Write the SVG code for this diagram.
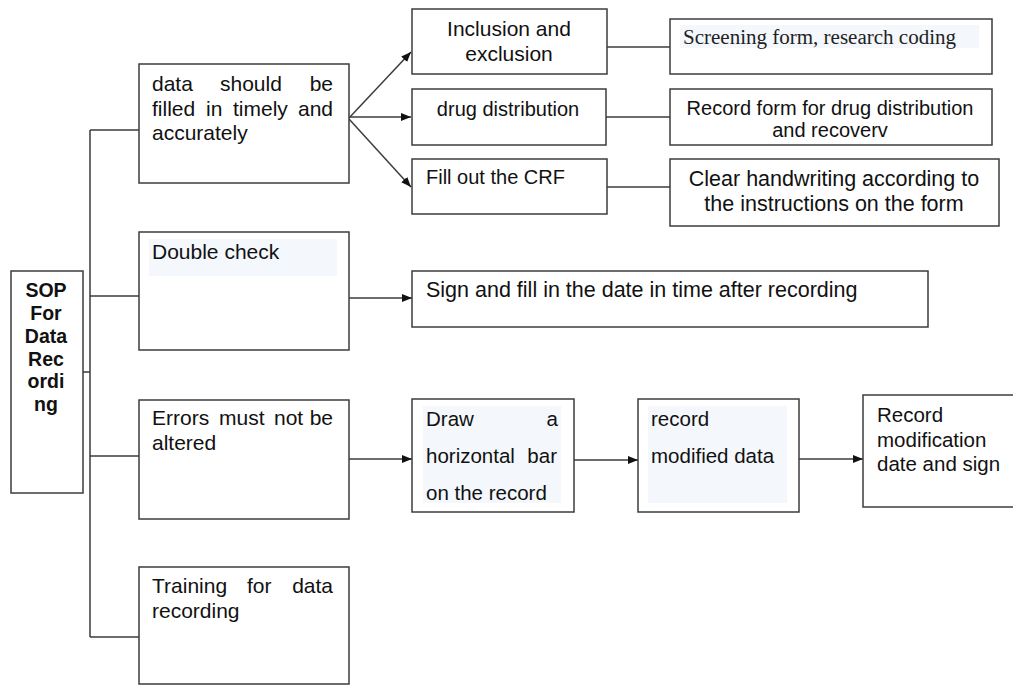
<svg xmlns="http://www.w3.org/2000/svg" width="1013" height="685" viewBox="0 0 1013 685">
<defs>
<style>
.box{fill:#fff;stroke:#3c3c3c;stroke-width:1.5}
.bg{fill:#f4f7fc}
.t{font-family:"Liberation Sans",Arial,sans-serif;font-size:21px;fill:#111}
.s{font-size:20px}
.m{font-size:20.5px}
.l{font-size:21.5px}
.c{text-anchor:middle}
.e{text-anchor:end}
.b{font-weight:bold;font-size:19.5px;text-anchor:middle}
.serif{font-family:"Liberation Serif","Times New Roman",serif;font-size:20px;fill:#222}
.conn{stroke:#3c3c3c;stroke-width:1.5;fill:none}
</style>
<marker id="arr" markerUnits="userSpaceOnUse" markerWidth="11" markerHeight="9" refX="10" refY="4" orient="auto">
<path d="M0,0 L10,4 L0,8 z" fill="#111"/>
</marker>
</defs>
<rect width="1013" height="685" fill="#fff"/>

<g id="connectors">
<path class="conn" d="M90 130 V637 M90 130 H139 M90 296 H139 M90 456 H139 M90 637 H139 M76 372 H90"/>
<path class="conn" d="M607 47 H670 M606 117 H670 M607 187 H670"/>
<path class="conn" marker-end="url(#arr)" d="M349 118 L411 52"/>
<path class="conn" marker-end="url(#arr)" d="M349 117 H411"/>
<path class="conn" marker-end="url(#arr)" d="M349 119 L411 187"/>
<path class="conn" marker-end="url(#arr)" d="M349 298 H412"/>
<path class="conn" marker-end="url(#arr)" d="M349 459 H412"/>
<path class="conn" marker-end="url(#arr)" d="M574 460 H638"/>
<path class="conn" marker-end="url(#arr)" d="M799 459 H863"/>
</g>

<g id="sop">
<rect class="box" x="11" y="271" width="72" height="222"/>
<text class="t b" x="46" y="297">SOP</text>
<text class="t b" x="46" y="320">For</text>
<text class="t b" x="46" y="343">Data</text>
<text class="t b" x="46" y="366">Rec</text>
<text class="t b" x="46" y="388">ordi</text>
<text class="t b" x="46" y="411">ng</text>
</g>

<g id="data-filled">
<rect class="box" x="139" y="64" width="210" height="119"/>
<text class="t" x="152" y="91">data</text>
<text class="t" x="220" y="91">should</text>
<text class="t e" x="333" y="91">be</text>
<text class="t" x="152" y="116">filled</text>
<text class="t" x="206" y="116">in</text>
<text class="t" x="233" y="116">timely</text>
<text class="t e" x="333" y="116">and</text>
<text class="t" x="152" y="140">accurately</text>
</g>

<g id="double-check">
<rect class="box" x="139" y="232" width="210" height="118"/>
<rect class="bg" x="149" y="239" width="188" height="37"/>
<text class="t" x="152" y="259">Double check</text>
</g>

<g id="errors">
<rect class="box" x="139" y="400" width="210" height="119"/>
<text class="t" x="152" y="425">Errors</text>
<text class="t" x="219" y="425">must</text>
<text class="t" x="274" y="425">not</text>
<text class="t e" x="333" y="425">be</text>
<text class="t" x="152" y="450">altered</text>
</g>

<g id="training">
<rect class="box" x="139" y="567" width="210" height="117"/>
<text class="t" x="152" y="593">Training</text>
<text class="t" x="247" y="593">for</text>
<text class="t e" x="333" y="593">data</text>
<text class="t" x="152" y="618">recording</text>
</g>

<g id="inclusion">
<rect class="box" x="412" y="9" width="195" height="65"/>
<text class="t c" x="509" y="36">Inclusion and</text>
<text class="t c" x="509" y="61">exclusion</text>
</g>

<g id="drug-distribution">
<rect class="box" x="412" y="89" width="194" height="56"/>
<text class="t s c" x="508" y="116">drug distribution</text>
</g>

<g id="fill-crf">
<rect class="box" x="412" y="159" width="195" height="55"/>
<text class="t s" x="426" y="184">Fill out the CRF</text>
</g>

<g id="screening">
<rect class="box" x="670" y="19" width="322" height="55"/>
<rect class="bg" x="680" y="25" width="299" height="23"/>
<text class="serif" x="683" y="44" textLength="273" lengthAdjust="spacingAndGlyphs">Screening form, research coding</text>
</g>

<g id="record-form">
<rect class="box" x="670" y="89" width="322" height="56"/>
<text class="t s c" x="830" y="115">Record form for drug distribution</text>
<text class="t s c" x="830" y="137">and recoverv</text>
</g>

<g id="clear-handwriting">
<rect class="box" x="670" y="159" width="329" height="67"/>
<text class="t l c" x="834" y="186">Clear handwriting according to</text>
<text class="t l c" x="834" y="211">the instructions on the form</text>
</g>

<g id="sign-date">
<rect class="box" x="412" y="271" width="516" height="56"/>
<text class="t l" x="426" y="297">Sign and fill in the date in time after recording</text>
</g>

<g id="draw-bar">
<rect class="box" x="412" y="399" width="162" height="113"/>
<rect class="bg" x="423" y="406" width="138" height="97"/>
<text class="t m" x="426" y="426">Draw</text>
<text class="t m e" x="558" y="426">a</text>
<text class="t m" x="426" y="463">horizontal</text>
<text class="t m e" x="557" y="463">bar</text>
<text class="t m" x="426" y="500">on the record</text>
</g>

<g id="record-modified">
<rect class="box" x="638" y="399" width="161" height="113"/>
<rect class="bg" x="648" y="406" width="139" height="97"/>
<text class="t m" x="651" y="426">record</text>
<text class="t m" x="651" y="463">modified data</text>
</g>

<g id="record-modification">
<rect class="box" x="863" y="395" width="152" height="112"/>
<text class="t m" x="877" y="422">Record</text>
<text class="t m" x="877" y="447">modification</text>
<text class="t m" x="877" y="471">date and sign</text>
</g>
</svg>
